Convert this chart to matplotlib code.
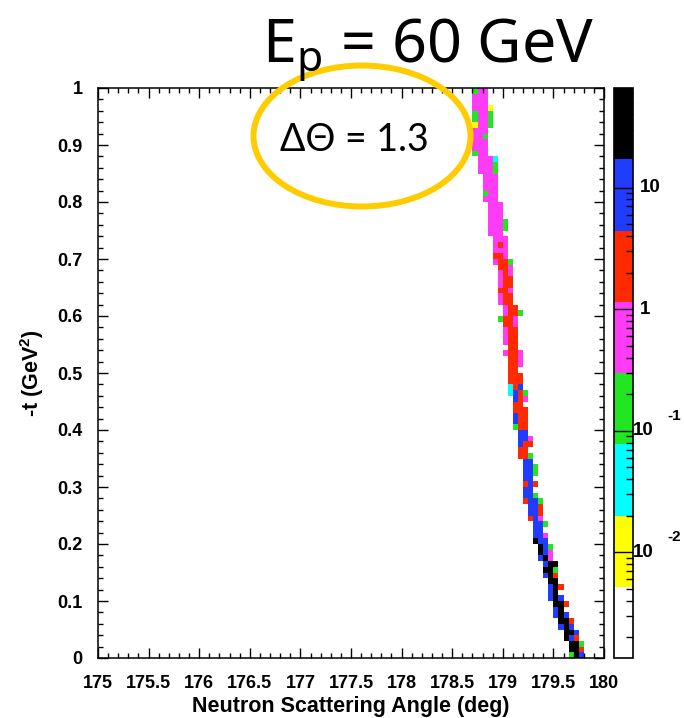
import numpy as np
import matplotlib
matplotlib.use("Agg")
import matplotlib.pyplot as plt
from matplotlib.colors import ListedColormap, LogNorm
from matplotlib.patches import Ellipse
from matplotlib import ticker as mticker
from matplotlib import transforms as mtrans

# 2D histogram binning: angle (deg) x -t (GeV^2)
X_EDGES = np.linspace(175.0, 180.0, 101)
Y_EDGES = np.linspace(0.0, 1.0, 101)

# bin content per colour code
LEVEL = {"y": 0.01, "c": 0.04, "g": 0.15, "m": 0.6, "r": 2.5, "b": 9.0, "k": 30.0}

# filled cells per -t row, from the top row (0.99-1.00) down to the bottom row (0.00-0.01):
# first filled angle bin and the codes of consecutive cells
ROW_START = [74, 74, 74, 74, 74, 74, 74, 74, 74, 74,
             74, 74, 75, 75, 75, 76, 76, 76, 76, 76,
             77, 77, 77, 77, 77, 77, 78, 78, 78, 78,
             78, 79, 79, 79, 79, 79, 79, 79, 80, 80,
             79, 80, 80, 80, 80, 81, 80, 81, 81, 81,
             81, 81, 81, 81, 82, 82, 82, 82, 82, 82,
             83, 83, 83, 83, 83, 84, 84, 84, 84, 84,
             84, 84, 84, 85, 85, 85, 86, 86, 86, 86,
             87, 87, 87, 88, 88, 88, 89, 89, 89, 89,
             90, 90, 90, 91, 91, 92, 92, 93, 93, 93]
ROW_CELLS = ["gmm", "mmm", "mmm", "mmmy", "gmmg", "gmmg", "ymmg", "mmm", "mmg", "mmm",
             "mmm", "gmm", "mmmc", "mmmg", "mmmg", "mmm", "mmm", "mmm", "gmm", "mmm",
             "mmm", "mmm", "mmm", "mmmg", "mmmg", "mmm", "mmm", "mrm", "mmm", "rrm",
             "mrrg", "rrm", "mrm", "mrr", "mrr", "rrm", "mrr", "mrr", "mrr", "mrrg",
             "grrm", "rrm", "mrr", "mrr", "mrr", "rr", "mrrm", "rrm", "rrm", "rr",
             "rrr", "rrr", "crb", "cbrg", "brm", "rr", "rrr", "brr", "brr", "grr",
             "bb", "bbm", "brr", "rr", "rrg", "bb", "bbg", "bbg", "bb", "rbr",
             "bb", "bbg", "rbbg", "bbr", "bbr", "rbm", "bbg", "bb", "bbm", "kbb",
             "kbg", "kbm", "bkm", "bkk", "kkg", "bkr", "kk", "bkr", "bk", "bkb",
             "kkr", "bk", "bkb", "kkr", "bkb", "kkb", "kbr", "kkg", "kkr", "gkb"]

PALETTE = ["#ffffff", "#ffff00", "#00ffff", "#22e622", "#ff3cf5", "#ff2a00", "#1f3cff", "#000000"]
Z_MIN, Z_MAX = 0.00135, 66.0

CB_TICKS = [0.01, 0.1, 1, 10]

plt.rcParams["font.family"] = ["Liberation Sans", "DejaVu Sans"]
plt.rcParams["font.weight"] = "bold"
plt.rcParams["axes.labelweight"] = "bold"
plt.rcParams["mathtext.default"] = "regular"

H = np.zeros((len(Y_EDGES) - 1, len(X_EDGES) - 1))
for k, (c0, cells) in enumerate(zip(ROW_START, ROW_CELLS)):
    row = H.shape[0] - 1 - k
    for j, code in enumerate(cells):
        H[row, c0 + j] = LEVEL[code]
H = np.ma.masked_equal(H, 0)

W, Hpx = 684, 718
fig = plt.figure(figsize=(W / 100, Hpx / 100), dpi=100)
ax = fig.add_axes([98 / W, 1 - 658 / Hpx, 506 / W, 570 / Hpx])
cax = fig.add_axes([614 / W, 1 - 658 / Hpx, 19 / W, 570 / Hpx])

cmap = ListedColormap(PALETTE)
norm = LogNorm(vmin=Z_MIN, vmax=Z_MAX)
mesh = ax.pcolormesh(X_EDGES, Y_EDGES, H, cmap=cmap, norm=norm)

ax.set_xlim(175, 180)
ax.set_ylim(0, 1)
ax.xaxis.set_major_locator(mticker.MultipleLocator(0.5))
ax.xaxis.set_minor_locator(mticker.MultipleLocator(0.1))
ax.yaxis.set_major_locator(mticker.MultipleLocator(0.1))
ax.yaxis.set_minor_locator(mticker.MultipleLocator(0.02))
ax.xaxis.set_major_formatter(mticker.FormatStrFormatter("%g"))
ax.yaxis.set_major_formatter(mticker.FormatStrFormatter("%g"))
ax.tick_params(which="both", direction="in", top=True, right=True, width=1, labelsize=13)
ax.tick_params(which="major", length=7)
ax.tick_params(which="minor", length=3.8)
ax.tick_params(axis="x", pad=12)
ax.tick_params(axis="y", pad=11)
for s in ax.spines.values():
    s.set_linewidth(1.1)

ax.set_xlabel("Neutron Scattering Angle (deg)", fontsize=15.5, fontweight="bold", labelpad=3)
ax.set_ylabel("-t (GeV$^2$)", fontsize=15.5, fontweight="bold", labelpad=8)

cbar = fig.colorbar(mesh, cax=cax)
cbar.outline.set_linewidth(1.2)
cbar.set_ticks(CB_TICKS)
cax.yaxis.set_major_formatter(mticker.NullFormatter())
cax.yaxis.set_minor_locator(mticker.LogLocator(base=10, subs=np.arange(2, 10)))
cax.yaxis.set_minor_formatter(mticker.NullFormatter())
cax.tick_params(which="major", direction="in", length=13.7, width=1)
cax.tick_params(which="minor", direction="in", length=5, width=1)

trans = mtrans.blended_transform_factory(cax.transAxes, cax.transData)
raised = mtrans.offset_copy(trans, fig=fig, y=15, units="dots")
for v in CB_TICKS:
    if v >= 1:
        cax.text(1.37, v, f"{v:g}", transform=trans, fontsize=13.5, ha="left", va="center")
    else:
        cax.text(1.0, v, "10", transform=trans, fontsize=13.5, ha="left", va="center")
        cax.text(2.8, v, f"{int(np.log10(v))}", transform=raised, fontsize=11,
                 ha="left", va="center")

fig.text(428 / W, 1 - 62 / Hpx, "E$_p$ = 60 GeV", family=["Noto Sans", "DejaVu Sans"],
         fontsize=44, fontweight="normal", ha="center", va="baseline")

ring = Ellipse((362 / W, 1 - 136 / Hpx), 217 / W, 141 / Hpx, transform=fig.transFigure,
               fill=False, edgecolor="#ffcc00", linewidth=4.3)
fig.add_artist(ring)
fig.text(354 / W, 1 - 140 / Hpx, "ΔΘ = 1.3", family=["Lato", "DejaVu Sans"],
         fontsize=27, fontweight="normal", ha="center", va="center")

fig.savefig("out.png", dpi=100)
